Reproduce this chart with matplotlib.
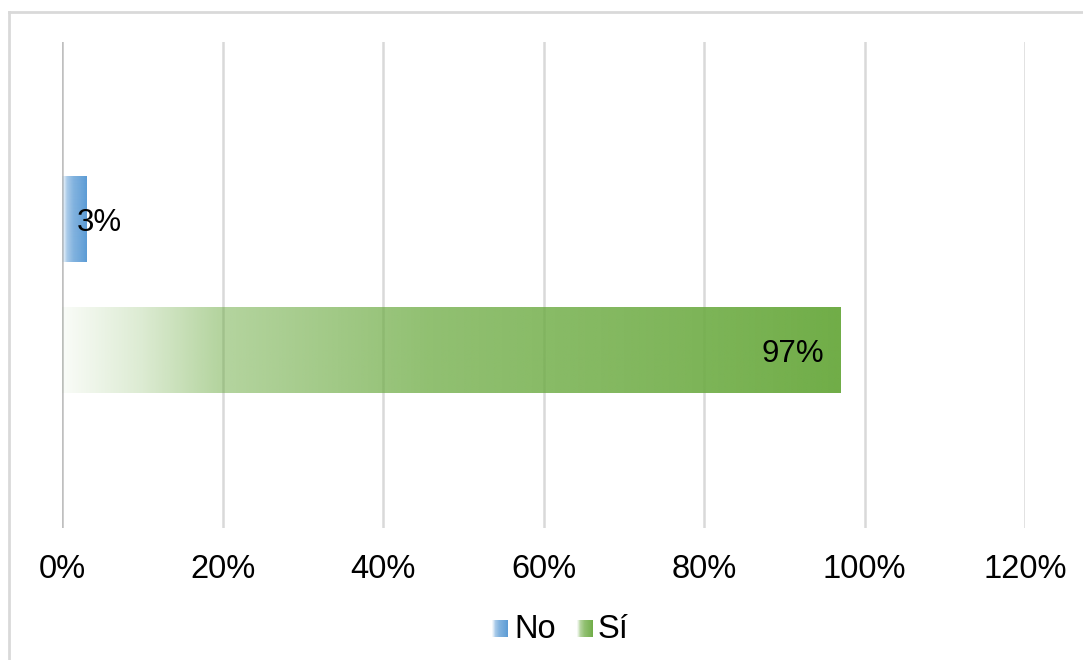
import numpy as np
import matplotlib
matplotlib.use("Agg")
import matplotlib.pyplot as plt
from matplotlib.lines import Line2D
from matplotlib.ticker import FuncFormatter

plt.rcParams['font.family'] = ['Liberation Sans', 'DejaVu Sans']

# one category, two series
series = ["No", "Sí"]
values = [3, 97]           # percent
colors = ["#5b9bd5", "#70ad47"]
ticks = [0, 20, 40, 60, 80, 100, 120]


def fade_rgba(color, n=400):
    # white-to-colour fade along the bar, gridlines still show through
    rgb = matplotlib.colors.to_rgb(color)
    t = np.linspace(0, 1, n)
    alpha = np.interp(t, [0, 0.1, 0.2, 0.47, 0.82, 1.0], [0.04, 0.24, 0.52, 0.77, 0.91, 1.0])
    img = np.zeros((1, n, 4))
    img[0, :, :3] = rgb
    img[0, :, 3] = alpha
    return img


fig = plt.figure(figsize=(10.83, 6.6), dpi=100)
ax = fig.add_axes([62 / 1083, 132 / 660, 963 / 1083, 486 / 660])

ax.set_xlim(0, 120)
ax.set_ylim(-1, 1)

# vertical gridlines
for t in ticks:
    ax.axvline(t, color="#bfbfbf" if t == 0 else "#d9d9d9", lw=1.8, zorder=1)

ypos = [0.27, -0.27]
h = 0.35
for name, v, c, y in zip(series, values, colors, ypos):
    ax.imshow(fade_rgba(c), extent=[0, v, y - h / 2, y + h / 2], aspect="auto",
              interpolation="bilinear", zorder=2)

# value labels
ax.annotate(f"{values[0]}%", xy=(0, ypos[0]), xytext=(11, 0), textcoords="offset points",
            ha="left", va="center_baseline", fontsize=22.5, zorder=3)
ax.annotate(f"{values[1]}%", xy=(values[1], ypos[1]), xytext=(-12, 0), textcoords="offset points",
            ha="right", va="center_baseline", fontsize=22.5, zorder=3)

ax.set_xticks(ticks)
ax.xaxis.set_major_formatter(FuncFormatter(lambda x, p: f"{int(x)}%"))
ax.tick_params(axis="x", length=0, pad=19, labelsize=23.5)
ax.set_yticks([])
for s in ax.spines.values():
    s.set_visible(False)

# legend: small faded swatches plus labels
legend_items = [(492, 514), (577, 598)]
for (sx, tx), name, c in zip(legend_items, series, colors):
    sw = fig.add_axes([sx / 1083, (660 - 637) / 660, 16 / 1083, 17 / 660])
    sw.imshow(fade_rgba(c, 50), aspect="auto", interpolation="bilinear")
    sw.axis("off")
    fig.text(tx / 1083, (660 - 626) / 660, name, fontsize=23.5, va="center_baseline", ha="left")

# chart frame
fig.add_artist(Line2D([9 / 1083, 1], [1 - 12 / 660, 1 - 12 / 660], color="#d9d9d9", lw=2))
fig.add_artist(Line2D([9 / 1083, 9 / 1083], [0, 1 - 12 / 660], color="#d9d9d9", lw=2))

fig.savefig("out.png", dpi=100)
